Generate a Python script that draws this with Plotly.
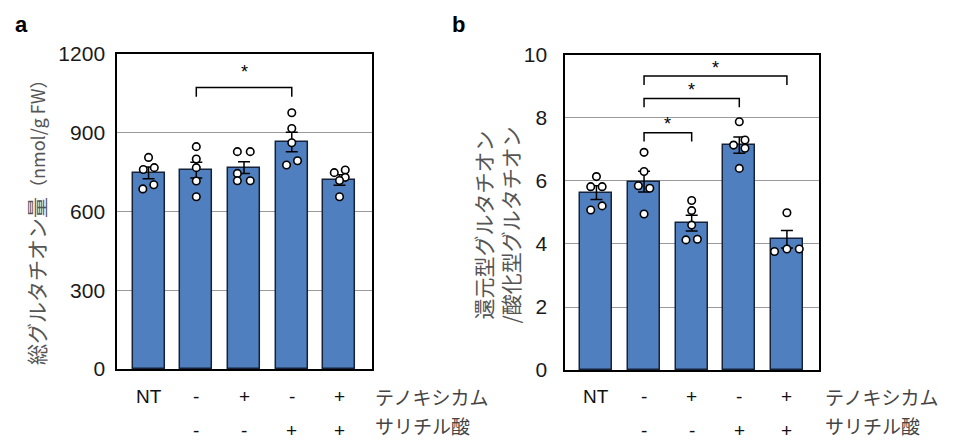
import plotly.graph_objects as go

# ---------------- data ----------------
tenoxicam_labels = ["NT", "-", "+", "-", "+"]
salicylic_labels = ["", "-", "-", "+", "+"]
row_names = ["テノキシカム", "サリチル酸"]

# panel a: total glutathione (nmol/g FW)
total_mean = [747, 758, 767, 865, 720]
total_sem = [22, 30, 22, 37, 20]
total_points = [
    [806, 767, 760, 702, 686],
    [847, 800, 767, 716, 656],
    [828, 828, 745, 717, 717],
    [976, 916, 862, 793, 777],
    [758, 748, 730, 718, 656],
]
total_jitter = [
    [0, 0.12, -0.11, 0.11, -0.12],
    [0, 0, 0, 0, 0],
    [-0.14, 0.13, -0.14, -0.14, 0.13],
    [0, 0, 0, 0.12, -0.11],
    [0.12, -0.11, 0.12, 0, 0],
]
total_comparisons = [(1, 3, 1072)]

# panel b: reduced / oxidized glutathione ratio
ratio_mean = [5.63, 5.98, 4.66, 7.14, 4.15]
ratio_sem = [0.22, 0.33, 0.25, 0.26, 0.28]
ratio_points = [
    [6.14, 5.82, 5.82, 5.08, 5.21],
    [6.91, 6.30, 5.85, 5.77, 4.95],
    [5.38, 5.06, 4.60, 4.13, 4.15],
    [7.88, 7.14, 7.30, 7.04, 6.40],
    [4.99, 3.76, 3.84, 3.84],
]
ratio_jitter = [
    [0, -0.12, 0.12, -0.12, 0.12],
    [0, 0, -0.12, 0.12, 0],
    [0, 0, 0, -0.12, 0.12],
    [0, -0.12, 0.12, 0.12, 0],
    [0, -0.26, 0, 0.26],
]
ratio_comparisons = [(1, 2, 7.53), (1, 3, 8.62), (1, 4, 9.33)]

# ---------------- style ----------------
FONT = "Liberation Sans, Arial, Noto Sans CJK JP, sans-serif"
JFONT = "Noto Sans CJK JP, Liberation Sans, sans-serif"
BAR_FILL = "#4F7FBE"
BAR_LINE = "#15223a"

fig = go.Figure()
xs = list(range(len(tenoxicam_labels)))


def add_panel(means, sems, points, jitter, xa, ya):
    fig.add_trace(go.Bar(
        x=xs, y=means, width=0.67, xaxis=xa, yaxis=ya,
        marker=dict(color=BAR_FILL, line=dict(color=BAR_LINE, width=1.5)),
        error_y=dict(type="data", array=sems, color="black", thickness=1.5, width=6),
        showlegend=False, hoverinfo="skip",
    ))
    px, py = [], []
    for i, (pts, jit) in enumerate(zip(points, jitter)):
        for v, j in zip(pts, jit):
            px.append(i + j)
            py.append(v)
    fig.add_trace(go.Scatter(
        x=px, y=py, mode="markers", xaxis=xa, yaxis=ya,
        marker=dict(symbol="circle", size=7.5, color="white",
                    line=dict(color="black", width=1.6)),
        showlegend=False, hoverinfo="skip",
    ))


add_panel(total_mean, total_sem, total_points, total_jitter, "x", "y")
add_panel(ratio_mean, ratio_sem, ratio_points, ratio_jitter, "x2", "y2")


def add_brackets(comps, drop, star_gap, xref, yref):
    for a, b, h in comps:
        fig.add_shape(type="path",
                      path=f"M {a} {h - drop} L {a} {h} L {b} {h} L {b} {h - drop}",
                      xref=xref, yref=yref, line=dict(color="black", width=1.5))
        fig.add_annotation(x=(a + b) / 2, y=h + star_gap, xref=xref, yref=yref,
                           text="*", showarrow=False, yanchor="middle",
                           font=dict(family=FONT, size=18, color="black"))


add_brackets(total_comparisons, 35, 58, "x", "y")
add_brackets(ratio_comparisons, 0.28, 0.27, "x2", "y2")

# condition rows under each panel
ROW1_Y = 0.0998
for xref, name_x in (("x", 0.390), ("x2", 0.860)):
    for i in xs:
        fig.add_annotation(x=i, y=ROW1_Y, xref=xref, yref="paper", text=tenoxicam_labels[i],
                           showarrow=False, yanchor="middle",
                           font=dict(family=FONT, size=19, color="#111"))
        if salicylic_labels[i]:
            fig.add_annotation(x=i, y=0, xref=xref, yref="paper", text=salicylic_labels[i],
                               showarrow=False, yanchor="bottom", yshift=-2,
                               font=dict(family=FONT, size=19, color="#111"))
    fig.add_annotation(x=name_x, y=ROW1_Y, xref="paper", yref="paper", text=row_names[0],
                       showarrow=False, xanchor="left", yanchor="middle",
                       font=dict(family=JFONT, size=19, color="#444"))
    fig.add_annotation(x=name_x, y=0, xref="paper", yref="paper", text=row_names[1],
                       showarrow=False, xanchor="left", yanchor="bottom",
                       font=dict(family=JFONT, size=19, color="#444"))

# y axis titles
fig.add_annotation(x=0.0376, y=0.508, xref="paper", yref="paper", textangle=-90,
                   text="総グルタチオン量<span style='font-size:18px'>（nmol/g FW）</span>",
                   showarrow=False, xanchor="center", yanchor="middle",
                   font=dict(family=JFONT, size=21, color="#555"))
fig.add_annotation(x=0.519, y=0.49, xref="paper", yref="paper", textangle=-90,
                   text="還元型グルタチオン<br>/酸化型グルタチオン",
                   showarrow=False, xanchor="center", yanchor="middle",
                   font=dict(family=JFONT, size=21, color="#555"))

# panel letters
fig.add_annotation(x=0.014, y=0.945, xref="paper", yref="paper", text="<b>a</b>",
                   showarrow=False, xanchor="left", yanchor="middle",
                   font=dict(family=FONT, size=22, color="black"))
fig.add_annotation(x=0.470, y=0.945, xref="paper", yref="paper", text="<b>b</b>",
                   showarrow=False, xanchor="left", yanchor="middle",
                   font=dict(family=FONT, size=22, color="black"))

xaxis_common = dict(range=[-0.66, 4.68], showticklabels=False, ticks="", showgrid=False,
                    zeroline=False, showline=True, mirror=True, linecolor="black",
                    linewidth=1.5, fixedrange=True, automargin=False)
yaxis_common = dict(showgrid=True, gridcolor="#9a9a9a", gridwidth=1, zeroline=False,
                    showline=True, mirror=True, linecolor="black", linewidth=1.5,
                    ticks="", automargin=False,
                    tickfont=dict(family=FONT, size=21, color="#1a1a1a"))

fig.update_layout(
    template="none",
    width=957, height=441,
    margin=dict(l=0, r=0, t=0, b=0, pad=0),
    paper_bgcolor="white", plot_bgcolor="white",
    bargap=0,
    xaxis=dict(domain=[0.1223, 0.3887], anchor="y", **xaxis_common),
    yaxis=dict(domain=[0.1633, 0.8776], anchor="x", range=[0, 1200],
               tickvals=[0, 300, 600, 900, 1200], ticklabelstandoff=6, **yaxis_common),
    xaxis2=dict(domain=[0.5904, 0.8561], anchor="y2", **xaxis_common),
    yaxis2=dict(domain=[0.161, 0.8753], anchor="x2", range=[0, 10],
                tickvals=[0, 2, 4, 6, 8, 10], ticklabelstandoff=12, **yaxis_common),
)

fig.write_html("out.html", config={"displayModeBar": False},
               post_script="document.body.style.margin='0';")
